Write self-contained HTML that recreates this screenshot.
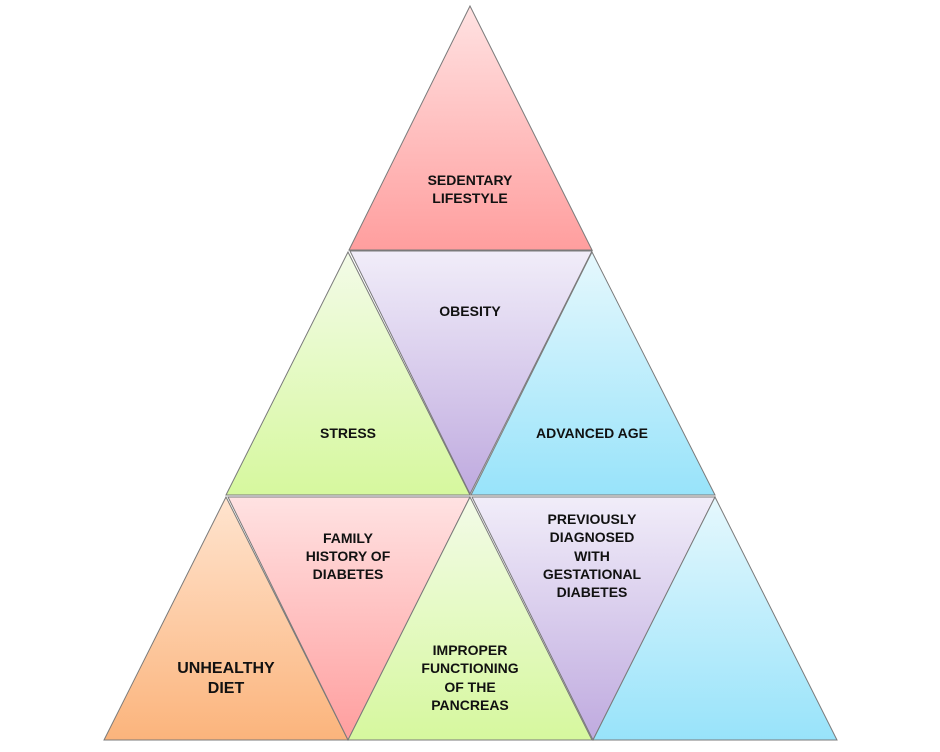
<!DOCTYPE html>
<html><head><meta charset="utf-8"><style>
html,body{margin:0;padding:0;background:#fff;width:940px;height:752px;overflow:hidden}
text{font-family:"Liberation Sans",sans-serif;font-weight:bold;font-size:14px;fill:#111;text-anchor:middle}
</style></head><body>
<svg width="940" height="752" viewBox="0 0 940 752">
<defs>
<linearGradient id="pk" x1="0" y1="0" x2="0" y2="1"><stop offset="0" stop-color="#ffe2e2"/><stop offset="1" stop-color="#ff9e9e"/></linearGradient>
<linearGradient id="gr" x1="0" y1="0" x2="0" y2="1"><stop offset="0" stop-color="#f3fbe8"/><stop offset="1" stop-color="#d6f89e"/></linearGradient>
<linearGradient id="pu" x1="0" y1="0" x2="0" y2="1"><stop offset="0" stop-color="#f1edf9"/><stop offset="1" stop-color="#bfaadf"/></linearGradient>
<linearGradient id="bl" x1="0" y1="0" x2="0" y2="1"><stop offset="0" stop-color="#e6f8fd"/><stop offset="1" stop-color="#98e3fa"/></linearGradient>
<linearGradient id="or" x1="0" y1="0" x2="0" y2="1"><stop offset="0" stop-color="#ffe4cf"/><stop offset="1" stop-color="#fbb47c"/></linearGradient>
</defs>
<g stroke="#7a7a7a" stroke-width="1">
<polygon points="470,6 349,250 592,250" fill="url(#pk)"/>
<polygon points="348,252 226,495 470,495" fill="url(#gr)"/>
<polygon points="350,251 592,251 470,494" fill="url(#pu)"/>
<polygon points="592,252 471,495 715,495" fill="url(#bl)"/>
<polygon points="226,497 104,740 348,740" fill="url(#or)"/>
<polygon points="228,497 470,497 348,740" fill="url(#pk)"/>
<polygon points="470,497 348,740 592,740" fill="url(#gr)"/>
<polygon points="472,497 715,497 593,740" fill="url(#pu)"/>
<polygon points="715,497 593,740 837,740" fill="url(#bl)"/>
</g>
<text x="470" y="185">SEDENTARY</text><text x="470" y="203">LIFESTYLE</text>
<text x="470" y="316">OBESITY</text>
<text x="348" y="438">STRESS</text>
<text x="592" y="438">ADVANCED AGE</text>
<text x="348" y="543">FAMILY</text><text x="348" y="561">HISTORY OF</text><text x="348" y="579">DIABETES</text>
<text x="592" y="524">PREVIOUSLY</text><text x="592" y="542">DIAGNOSED</text><text x="592" y="561">WITH</text><text x="592" y="579">GESTATIONAL</text><text x="592" y="597">DIABETES</text>
<text x="470" y="655">IMPROPER</text><text x="470" y="673">FUNCTIONING</text><text x="470" y="692">OF THE</text><text x="470" y="710">PANCREAS</text>
<text x="226" y="673" style="font-size:16px">UNHEALTHY</text><text x="226" y="693" style="font-size:16px">DIET</text>
</svg>
</body></html>
